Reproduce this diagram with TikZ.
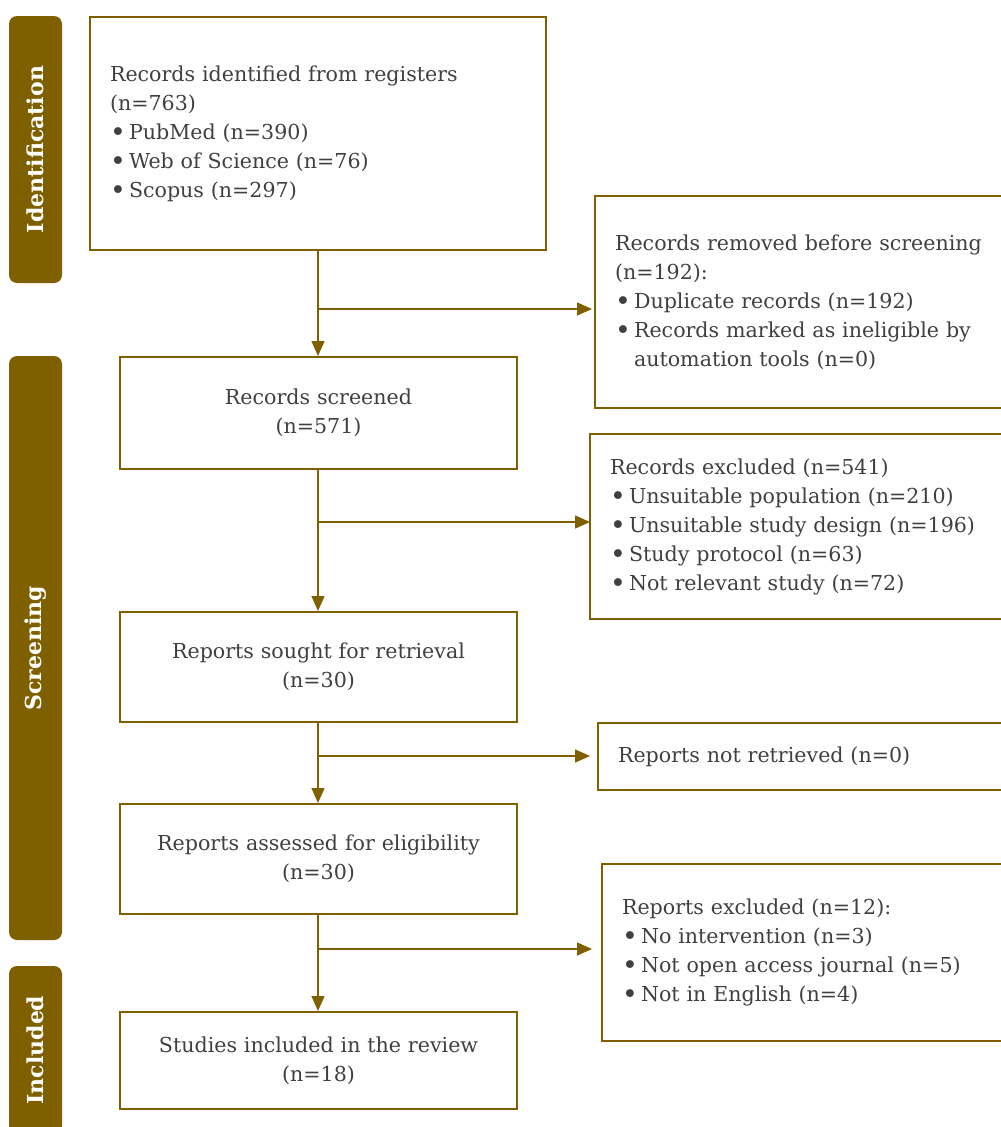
\documentclass[tikz,border=0pt]{standalone}
\usepackage{fontspec}
\setmainfont{DejaVu Serif}
\usetikzlibrary{arrows.meta}
\definecolor{gold}{HTML}{7F6000}
\definecolor{txt}{HTML}{404040}
\newcommand{\bul}{\makebox[19pt][l]{\raisebox{-0.1em}{\scalebox{1.3}{\textbullet}}}}
\newcommand{\ind}{\hspace*{19pt}}
\tikzset{
  box/.style={draw=gold, line width=2pt, inner xsep=20pt, inner ysep=0pt, text=txt,
    font=\fontsize{20.6}{29}\selectfont, fill=white},
  band/.style={fill=gold, rounded corners=8pt, minimum width=53pt, text=white,
    font=\bfseries\fontsize{22}{24}\selectfont, rotate=90, inner sep=0pt},
  conn/.style={draw=gold, line width=1.5pt},
  arr/.style={conn, -{Triangle[length=15pt,width=13pt]}}
}
\begin{document}
\begin{tikzpicture}[x=1pt,y=-1pt]
\useasboundingbox (0,0) rectangle (1001,1127);
\clip (0,0) rectangle (1001,1127);
% bands
\node[band, minimum width=267pt, minimum height=53pt] (bid) at (35.5,149.5) {Identification};
\node[band, minimum width=584pt, minimum height=53pt] (bsc) at (35.5,648) {Screening};
\node[band, minimum width=168pt, minimum height=53pt] (bin) at (35.5,1050) {Included};
% boxes
\node[box, text width=416pt, minimum height=233pt, align=left] (ident) at (318,133.5)
 {Records identified from registers\\(n=763)\\\bul PubMed (n=390)\\\bul Web of Science (n=76)\\\bul Scopus (n=297)};
\node[box, text width=380pt, minimum height=212pt, align=left, anchor=west] (removed) at (594,302)
 {\makebox[373pt][s]{Records removed before screening}\\(n=192):\\\bul Duplicate records (n=192)\\\bul Records marked as ineligible by\\\ind automation tools (n=0)};
\node[box, text width=357pt, minimum height=112pt, align=center] (screened) at (318.5,413)
 {Records screened\\(n=571)};
\node[box, text width=380pt, minimum height=185pt, align=left, anchor=west] (excl) at (589,526.5)
 {Records excluded (n=541)\\\bul Unsuitable population (n=210)\\\bul Unsuitable study design (n=196)\\\bul Study protocol (n=63)\\\bul Not relevant study (n=72)};
\node[box, text width=357pt, minimum height=110pt, align=center] (sought) at (318.5,667)
 {Reports sought for retrieval\\(n=30)};
\node[box, text width=380pt, minimum height=67pt, align=left, anchor=west] (notret) at (597,756.5)
 {Reports not retrieved (n=0)};
\node[box, text width=357pt, minimum height=110pt, align=center] (assessed) at (318.5,859)
 {Reports assessed for eligibility\\(n=30)};
\node[box, text width=380pt, minimum height=177pt, align=left, anchor=west] (rexcl) at (601,952.5)
 {Reports excluded (n=12):\\\bul No intervention (n=3)\\\bul Not open access journal (n=5)\\\bul Not in English (n=4)};
\node[box, text width=357pt, minimum height=97pt, align=center] (incl) at (318.5,1060.5)
 {Studies included in the review\\(n=18)};
% connectors
\coordinate (j1) at (318,309);
\coordinate (e1) at (592,309);
\coordinate (j2) at (318,522);
\coordinate (e2) at (590,522);
\coordinate (j3) at (318,756);
\coordinate (e3) at (590,756);
\coordinate (j4) at (318,949);
\coordinate (e4) at (592,949);
\draw[arr] (ident.south -| j1) -- (screened.north -| j1);
\draw[arr] (j1) -- (e1);
\draw[arr] (screened.south -| j2) -- (sought.north -| j2);
\draw[arr] (j2) -- (e2);
\draw[arr] (sought.south -| j3) -- (assessed.north -| j3);
\draw[arr] (j3) -- (e3);
\draw[arr] (assessed.south -| j4) -- (incl.north -| j4);
\draw[arr] (j4) -- (e4);
\end{tikzpicture}
\end{document}
